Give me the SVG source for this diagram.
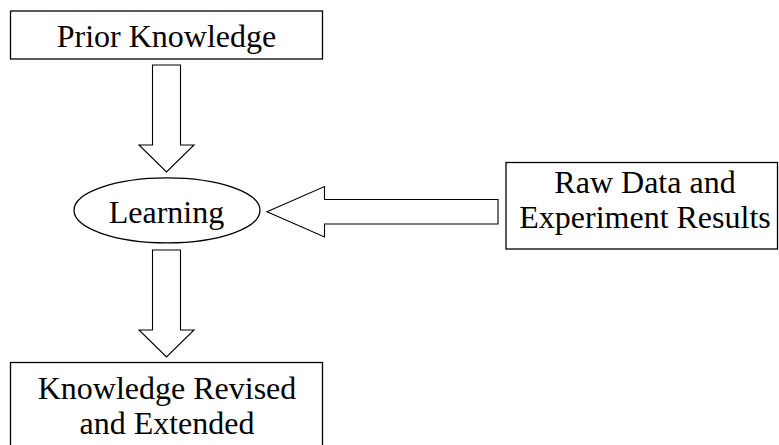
<svg xmlns="http://www.w3.org/2000/svg" width="779" height="445" viewBox="0 0 779 445">
  <style>
    .box { fill: #fff; stroke: #000; stroke-width: 1.3; }
    .arrow { fill: #fff; stroke: #000; stroke-width: 1.1; stroke-linejoin: miter; }
    .label { font-family: 'Liberation Serif', 'DejaVu Serif', serif; font-size: 32px; fill: #000; text-anchor: middle; }
  </style>
  <rect width="779" height="445" fill="#fff"/>

  <!-- block arrows between the stages -->
  <g id="connectors">
    <polygon class="arrow" points="152.5,65 180.5,65 180.5,145 194,145 166.5,172 139,145 152.5,145"/>
    <polygon class="arrow" points="498,199.5 498,224 324.5,224 324.5,237 267,211.8 324.5,186.5 324.5,199.5"/>
    <polygon class="arrow" points="152.5,250 180.5,250 180.5,330 194,330 166.5,357 139,330 152.5,330"/>
  </g>

  <g id="prior-knowledge">
    <rect class="box" x="10.5" y="11" width="312" height="48"/>
    <text class="label" x="166.5" y="46.5">Prior Knowledge</text>
  </g>

  <g id="learning">
    <ellipse class="box" cx="167" cy="210.3" rx="93" ry="32.5"/>
    <text class="label" x="166.5" y="223">Learning</text>
  </g>

  <g id="raw-data">
    <rect class="box" x="506" y="162.5" width="271.5" height="86.5"/>
    <text class="label" x="645" y="193">Raw Data and</text>
    <text class="label" x="645" y="227.5">Experiment Results</text>
  </g>

  <g id="knowledge-revised">
    <rect class="box" x="10.5" y="362.5" width="312" height="90"/>
    <text class="label" x="167" y="399">Knowledge Revised</text>
    <text class="label" x="167" y="434">and Extended</text>
  </g>
</svg>
